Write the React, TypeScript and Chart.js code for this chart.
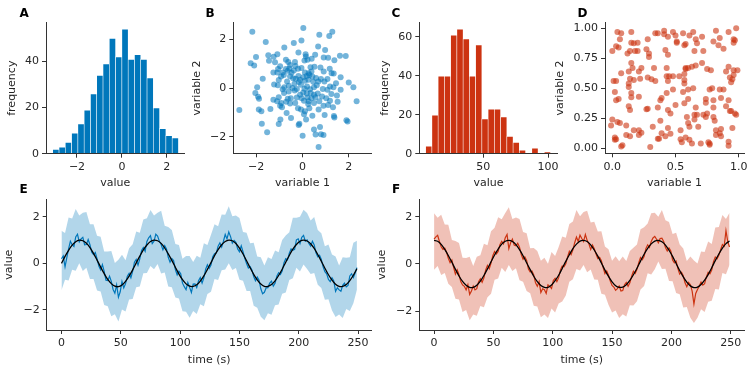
import React, { useEffect, useRef } from "react";
import { Chart, registerables } from "chart.js";

Chart.register(...registerables);

const FONT = "'DejaVu Sans', sans-serif";
const TXT = "#262626";
const AXC = "#333333";
const BLUE = "#0077BB";
const RED = "#CC3311";

// ---------------- Panel A: histogram of normal values ----------------
const histABinCenters = [-2.94, -2.66, -2.38, -2.1, -1.82, -1.54, -1.26, -0.98, -0.7, -0.42, -0.14, 0.14, 0.42, 0.7, 0.98, 1.26, 1.54, 1.82, 2.1, 2.38];
const histACounts = [2, 3, 5, 9, 13, 19, 26, 34, 39, 50, 42, 54, 41, 43, 41, 33, 20, 11, 8, 7];
const histAXTicks = [-2, 0, 2];
const histAXLabels = ["−2", "0", "2"];
const histAYTicks = [0, 20, 40];
const histAYLabels = ["0", "20", "40"];

// ---------------- Panel B: scatter (normal) ----------------
const scatterBX = [-2.16, 0.04, 0.73, 1.16, 1.29, -1.58, -0.37, -0.04, 0.68, 0.98, -0.78, -0.17, -2.0, -1.47, -1.08, -1.24, -1.44, -0.71, -0.61, 0.14, 0.55, 0.92, 1.11, 1.38, 1.62, 1.87, -2.23, -2.08, -0.32, 0.09, 0.22, 0.4, -1.18, -0.96, -0.53, -0.3, -0.19, -0.04, 0.52, 0.78, 1.18, 1.35, -1.05, -0.71, -0.56, -0.37, -1.25, -1.08, -0.85, -0.63, -0.47, 0.11, 0.27, 0.39, 0.92, 1.26, 1.65, -0.92, -0.8, -0.53, -0.17, 0.04, 0.19, 0.3, 0.43, 0.59, 0.8, 1.08, -1.71, -1.02, -0.66, -0.29, -0.1, 0.11, 0.26, 0.47, 0.69, 0.95, 2.0, -1.06, -1.22, -0.59, -0.34, -0.06, 0.2, 0.5, 1.19, 1.34, 2.2, -1.95, -0.78, -0.43, -0.24, 0.09, 0.33, 0.88, 1.08, 1.65, -2.03, -0.79, -0.59, -0.33, -0.1, 0.04, 0.19, 0.36, 0.5, 0.66, 1.25, 1.49, -1.91, -1.87, -1.02, -0.63, -0.5, -0.24, -0.03, 0.22, 0.39, 0.56, 0.85, 1.03, 1.19, 1.52, 2.34, -1.25, -1.09, -0.91, -0.7, -0.53, -0.31, 0.07, 0.27, 0.5, 0.73, 0.91, 1.11, 1.32, -0.96, -0.88, -1.38, -2.72, -1.88, -1.77, -0.19, -0.06, 0.11, 0.3, 0.7, -0.68, -0.49, 0.07, 0.43, 0.96, 1.36, 1.38, -0.95, -1.02, -1.75, 0.16, -0.16, -0.13, 1.95, 1.9, -1.52, 0.5, 0.76, 0.57, 0.8, 0.91, 0.01, 0.7, 0.35, -0.15, 0.62, -0.85, 0.25, -0.4, 1.45, 0.15];
const scatterBY = [2.31, 2.46, 2.19, 2.14, 2.31, 1.89, 1.85, 1.95, 1.71, 1.56, 1.66, 1.46, 1.27, 1.35, 1.39, 1.29, 1.12, 1.16, 1.07, 1.39, 1.37, 1.25, 1.24, 1.14, 1.33, 1.32, 1.02, 0.93, 1.07, 1.13, 1.16, 1.2, 1.06, 0.9, 0.95, 0.91, 0.79, 0.82, 0.88, 0.84, 0.79, 0.6, 0.78, 0.78, 0.8, 0.72, 0.64, 0.64, 0.64, 0.71, 0.63, 0.64, 0.61, 0.68, 0.68, 0.61, 0.45, 0.48, 0.54, 0.49, 0.5, 0.45, 0.5, 0.54, 0.48, 0.41, 0.37, 0.37, 0.38, 0.33, 0.27, 0.38, 0.34, 0.3, 0.34, 0.26, 0.27, 0.27, 0.23, 0.12, 0.15, 0.1, 0.18, 0.14, 0.07, 0.04, 0.07, 0.04, 0.04, 0.04, 0.04, 0.0, -0.04, -0.03, -0.05, -0.04, -0.07, -0.07, -0.2, -0.2, -0.14, -0.1, -0.27, -0.18, -0.22, -0.2, -0.27, -0.22, -0.24, -0.3, -0.35, -0.44, -0.37, -0.44, -0.42, -0.38, -0.41, -0.38, -0.41, -0.37, -0.34, -0.42, -0.52, -0.56, -0.54, -0.48, -0.54, -0.61, -0.56, -0.63, -0.61, -0.52, -0.54, -0.61, -0.54, -0.72, -0.69, -0.78, -0.72, -0.78, -0.86, -0.9, -0.88, -0.95, -0.82, -0.88, -0.95, -0.82, -0.88, -1.02, -1.22, -1.07, -1.13, -1.1, -1.14, -1.2, -1.29, -1.47, -1.46, -1.29, -1.51, -1.46, -1.37, -1.32, -1.81, -1.69, -1.59, -1.9, -1.89, -1.92, -1.95, -2.41, 0.85, 0.25, 0.12, -0.05, -0.65, 0.4, 0.2, 1.3];
const scatterBTicks = [-2, 0, 2];
const scatterBLabels = ["−2", "0", "2"];

// ---------------- Panel C: histogram (skewed) ----------------
const histCBinCenters = [7.91, 12.73, 17.55, 22.37, 27.19, 32.01, 36.83, 41.65, 46.47, 51.29, 56.11, 60.93, 65.75, 70.57, 75.39, 80.21, 85.03, 89.85, 94.67, 99.49];
const histCCounts = [4, 20, 40, 40, 61, 64, 59, 40, 56, 18, 23, 23, 19, 9, 6, 2, 0, 3, 0, 1];
const histCXTicks = [50, 100];
const histCXLabels = ["50", "100"];
const histCYTicks = [0, 20, 40, 60];
const histCYLabels = ["0", "20", "40", "60"];

// ---------------- Panel D: scatter (uniform) ----------------
const scatterDX = [0.0, 0.04, 0.07, 0.03, 0.05, 0.06, 0.01, 0.03, 0.02, 0.03, 0.05, -0.01, 0.0, 0.04, 0.06, 0.02, 0.03, 0.02, 0.07, 0.11, 0.12, 0.15, 0.14, 0.15, 0.17, 0.2, 0.18, 0.2, 0.15, 0.16, 0.13, 0.14, 0.17, 0.13, 0.13, 0.21, 0.22, 0.23, 0.15, 0.15, 0.21, 0.13, 0.14, 0.11, 0.14, 0.17, 0.21, 0.21, 0.23, 0.08, 0.07, 0.27, 0.29, 0.29, 0.28, 0.34, 0.36, 0.41, 0.33, 0.28, 0.31, 0.34, 0.28, 0.27, 0.32, 0.3, 0.36, 0.38, 0.39, 0.38, 0.39, 0.42, 0.36, 0.37, 0.41, 0.44, 0.42, 0.44, 0.43, 0.43, 0.45, 0.44, 0.43, 0.44, 0.46, 0.44, 0.46, 0.48, 0.5, 0.51, 0.51, 0.48, 0.48, 0.5, 0.54, 0.54, 0.55, 0.56, 0.57, 0.58, 0.61, 0.64, 0.66, 0.65, 0.67, 0.71, 0.72, 0.53, 0.57, 0.58, 0.58, 0.6, 0.63, 0.66, 0.71, 0.57, 0.57, 0.56, 0.6, 0.64, 0.57, 0.6, 0.59, 0.6, 0.61, 0.58, 0.61, 0.63, 0.65, 0.67, 0.65, 0.66, 0.68, 0.7, 0.75, 0.77, 0.78, 0.74, 0.74, 0.72, 0.74, 0.75, 0.76, 0.77, 0.77, 0.8, 0.8, 0.81, 0.8, 0.82, 0.8, 0.84, 0.85, 0.88, 0.79, 0.85, 0.88, 0.86, 0.82, 0.82, 0.85, 0.86, 0.86, 0.92, 0.9, 0.93, 0.94, 0.95, 0.92, 0.92, 0.97, 0.98, 0.9, 0.92, 0.93, 0.95, 0.96, 0.96, 0.99, 0.94, 0.92, 0.96, 0.97, 0.98, 0.96];
const scatterDY = [0.81, 0.97, 0.96, 0.85, 0.84, 0.91, 0.56, 0.56, 0.47, 0.4, 0.41, 0.19, 0.24, 0.22, 0.21, 0.09, 0.075, 0.07, 0.625, 0.19, 0.79, 0.97, 0.81, 0.88, 0.875, 0.88, 0.81, 0.81, 0.71, 0.67, 0.64, 0.58, 0.57, 0.54, 0.51, 0.64, 0.58, 0.67, 0.46, 0.425, 0.43, 0.35, 0.32, 0.11, 0.1, 0.15, 0.15, 0.11, 0.13, 0.025, 0.015, 0.825, 0.79, 0.76, 0.91, 0.96, 0.96, 0.98, 0.67, 0.59, 0.575, 0.56, 0.33, 0.325, 0.18, 0.01, 0.34, 0.4, 0.42, 0.23, 0.125, 0.1, 0.08, 0.08, 0.95, 0.93, 0.82, 0.78, 0.67, 0.6, 0.6, 0.56, 0.46, 0.32, 0.29, 0.17, 0.12, 0.97, 0.94, 0.89, 0.88, 0.49, 0.6, 0.36, 0.15, 0.075, 0.05, 0.96, 0.86, 0.87, 0.94, 0.97, 0.91, 0.81, 0.875, 0.93, 0.81, 0.6, 0.62, 0.66, 0.67, 0.67, 0.68, 0.69, 0.71, 0.57, 0.54, 0.47, 0.49, 0.5, 0.375, 0.41, 0.26, 0.21, 0.18, 0.09, 0.07, 0.04, 0.28, 0.28, 0.24, 0.34, 0.18, 0.04, 0.66, 0.49, 0.65, 0.38, 0.41, 0.28, 0.26, 0.29, 0.05, 0.04, 0.03, 0.34, 0.26, 0.23, 0.4, 0.98, 0.89, 0.86, 0.92, 0.83, 0.5, 0.49, 0.49, 0.42, 0.15, 0.11, 0.125, 0.16, 0.1, 0.4, 0.35, 0.31, 0.31, 0.17, 0.055, 0.02, 0.29, 0.28, 0.64, 0.68, 0.59, 0.575, 0.61, 0.65, 0.65, 0.55, 0.97, 0.91, 0.9, 1.0, 0.88];
const scatterDXTicks = [0, 0.5, 1];
const scatterDXLabels = ["0.0", "0.5", "1.0"];
const scatterDYTicks = [0, 0.25, 0.5, 0.75, 1];
const scatterDYLabels = ["0.00", "0.25", "0.50", "0.75", "1.00"];

// ---------------- Panels E & F: time series ----------------
// coarse time grid (band + smooth curve)
const timeS = [0, 3, 6, 9, 12, 15, 18, 21, 24, 27, 30, 33, 36, 39, 42, 45, 48, 51, 54, 57, 60, 63, 66, 69, 72, 75, 78, 81, 84, 87, 90, 93, 96, 99, 102, 105, 108, 111, 114, 117, 120, 123, 126, 129, 132, 135, 138, 141, 144, 147, 150, 153, 156, 159, 162, 165, 168, 171, 174, 177, 180, 183, 186, 189, 192, 195, 198, 201, 204, 207, 210, 213, 216, 219, 222, 225, 228, 231, 234, 237, 240, 243, 246, 249];
// fine time grid (noisy measured line)
const timeFine = [0, 1.5, 3, 4.5, 6, 7.5, 9, 10.5, 12, 13.5, 15, 16.5, 18, 19.5, 21, 22.5, 24, 25.5, 27, 28.5, 30, 31.5, 33, 34.5, 36, 37.5, 39, 40.5, 42, 43.5, 45, 46.5, 48, 49.5, 51, 52.5, 54, 55.5, 57, 58.5, 60, 61.5, 63, 64.5, 66, 67.5, 69, 70.5, 72, 73.5, 75, 76.5, 78, 79.5, 81, 82.5, 84, 85.5, 87, 88.5, 90, 91.5, 93, 94.5, 96, 97.5, 99, 100.5, 102, 103.5, 105, 106.5, 108, 109.5, 111, 112.5, 114, 115.5, 117, 118.5, 120, 121.5, 123, 124.5, 126, 127.5, 129, 130.5, 132, 133.5, 135, 136.5, 138, 139.5, 141, 142.5, 144, 145.5, 147, 148.5, 150, 151.5, 153, 154.5, 156, 157.5, 159, 160.5, 162, 163.5, 165, 166.5, 168, 169.5, 171, 172.5, 174, 175.5, 177, 178.5, 180, 181.5, 183, 184.5, 186, 187.5, 189, 190.5, 192, 193.5, 195, 196.5, 198, 199.5, 201, 202.5, 204, 205.5, 207, 208.5, 210, 211.5, 213, 214.5, 216, 217.5, 219, 220.5, 222, 223.5, 225, 226.5, 228, 229.5, 231, 232.5, 234, 235.5, 237, 238.5, 240, 241.5, 243, 244.5, 246, 247.5, 249];

const eSmooth = [0.0, 0.3, 0.56, 0.78, 0.93, 1.0, 0.97, 0.86, 0.68, 0.43, 0.14, -0.16, -0.44, -0.69, -0.87, -0.98, -1.0, -0.93, -0.77, -0.55, -0.28, 0.02, 0.31, 0.58, 0.79, 0.94, 1.0, 0.97, 0.86, 0.66, 0.41, 0.13, -0.17, -0.46, -0.7, -0.88, -0.98, -0.99, -0.92, -0.76, -0.54, -0.26, 0.03, 0.33, 0.59, 0.8, 0.94, 1.0, 0.97, 0.85, 0.65, 0.4, 0.11, -0.19, -0.47, -0.71, -0.89, -0.99, -0.99, -0.91, -0.75, -0.52, -0.25, 0.05, 0.34, 0.61, 0.81, 0.95, 1.0, 0.96, 0.84, 0.64, 0.38, 0.09, -0.21, -0.49, -0.72, -0.9, -0.99, -0.99, -0.91, -0.74, -0.51, -0.23];
const eNoisy = [
  0.2, 0.32, -0.15, 0.25, 0.62, 0.95, 0.8, 0.72, 1.13, 1.25, 0.92, 1.05, 1.12, 0.8, 0.81, 1.02, 0.8, 0.48, 0.38, 0.47,
  0.19, -0.12, -0.28, -0.05, -0.34, -0.72, -0.74, -0.55, -0.77, -1.12, -1.28, -0.92, -1.45, -1.22, -0.78, -1.05, -0.87, -0.55, -0.43, -0.62,
  -0.33, 0.05, 0.17, -0.08, 0.19, 0.55, 0.68, 0.52, 0.94, 1.1, 1.19, 0.85, 0.95, 1.25, 1.17, 0.95, 0.81, 0.58, 0.76, 0.62,
  0.26, 0.05, 0.21, 0.12, -0.27, -0.5, -0.34, -0.45, -0.85, -1.0, -1.13, -0.82, -1.03, -1.25, -0.89, -0.88, -1.04, -0.75, -0.61, -0.85,
  -0.62, -0.25, -0.06, -0.22, -0.07, 0.28, 0.41, 0.45, 0.74, 0.88, 0.7, 0.95, 1.24, 1.05, 1.35, 1.15, 0.87, 0.98, 0.9, 0.62,
  0.5, 0.75, 0.5, 0.22, -0.01, -0.2, -0.14, -0.28, -0.57, -0.75, -0.59, -0.72, -1.09, -1.3, -1.24, -1.05, -1.04, -0.85, -0.76, -0.98,
  -0.85, -0.55, -0.4, -0.48, -0.33, 0.02, 0.2, 0.15, 0.44, 0.62, 0.56, 0.6, 1.01, 1.05, 0.85, 1.12, 1.2, 0.95, 1.01, 0.85,
  0.74, 0.95, 0.79, 0.45, 0.28, 0.35, 0.17, -0.15, -0.36, -0.45, -0.69, -0.78, -0.62, -0.75, -1.2, -1.05, -1.14, -1.2, -0.94, -0.85,
  -1.01, -0.95, -0.54, -0.45, -0.61, -0.42, -0.18,
];
const eUpper = [1.4, 1.3, 1.97, 1.93, 2.33, 2.05, 2.17, 2.21, 1.68, 1.68, 1.19, 1.14, 0.51, 0.51, 0.53, 0.02, 0.15, 0.37, 0.13, 0.65, 0.82, 1.37, 1.31, 1.88, 1.94, 2.29, 2.05, 2.17, 2.26, 1.61, 1.56, 1.43, 0.83, 0.79, 0.2, 0.32, 0.32, 0.06, 0.33, 0.24, 0.86, 0.79, 1.23, 1.68, 1.59, 2.1, 2.09, 2.45, 2.02, 2.05, 1.95, 1.35, 1.31, 0.86, 0.88, 0.29, 0.26, -0.09, 0.26, 0.19, 0.55, 0.48, 1.0, 1.2, 1.34, 1.96, 1.96, 2.0, 2.3, 2.16, 1.84, 1.99, 1.43, 1.29, 0.74, 0.81, 0.38, 0.3, -0.09, 0.26, 0.24, 0.26, 0.89, 0.97];
const eLower = [-1.15, -0.7, -0.73, -0.27, -0.32, 0.0, -0.33, -0.19, -0.67, -0.67, -1.16, -1.21, -1.79, -1.84, -2.27, -2.18, -2.5, -1.98, -2.07, -1.55, -1.53, -1.03, -0.99, -0.42, -0.41, -0.11, -0.25, -0.03, -0.44, -0.39, -0.99, -1.02, -1.47, -1.51, -2.05, -2.08, -2.33, -2.04, -2.17, -1.76, -1.84, -1.31, -1.22, -0.67, -0.71, -0.3, -0.26, 0.0, -0.28, -0.2, -0.7, -0.75, -1.19, -1.19, -1.82, -1.91, -2.29, -2.44, -2.14, -2.21, -1.8, -1.77, -1.3, -1.25, -0.71, -0.64, -0.19, -0.35, -0.05, -0.24, -0.46, -0.41, -0.92, -1.06, -1.56, -1.54, -2.02, -2.3, -2.19, -2.34, -1.96, -2.04, -1.71, -1.13];

const fSmooth = [1.0, 0.96, 0.83, 0.62, 0.36, 0.07, -0.23, -0.51, -0.74, -0.9, -0.99, -0.99, -0.9, -0.73, -0.49, -0.21, 0.09, 0.38, 0.63, 0.84, 0.96, 1.0, 0.95, 0.82, 0.61, 0.35, 0.05, -0.24, -0.52, -0.75, -0.91, -0.99, -0.99, -0.89, -0.71, -0.48, -0.19, 0.11, 0.39, 0.65, 0.84, 0.97, 1.0, 0.95, 0.81, 0.59, 0.33, 0.04, -0.26, -0.53, -0.76, -0.92, -0.99, -0.98, -0.88, -0.7, -0.46, -0.18, 0.12, 0.41, 0.66, 0.85, 0.97, 1.0, 0.94, 0.8, 0.58, 0.32, 0.02, -0.28, -0.55, -0.77, -0.93, -1.0, -0.98, -0.87, -0.69, -0.45, -0.16, 0.14, 0.42, 0.67, 0.86, 0.97];
const fNoisy = [
  1.05, 1.15, 1.21, 0.95, 0.73, 0.62, 0.67, 0.5, 0.24, 0.05, 0.17, -0.15, -0.43, -0.25, -0.46, -0.75, -0.89, -0.95, -1.1, -0.88,
  -1.29, -1.15, -0.94, -1.1, -1.05, -0.75, -0.63, -0.78, -0.59, -0.25, -0.06, -0.2, 0.04, 0.35, 0.53, 0.42, 0.53, 0.82, 0.96, 0.85,
  1.11, 1.25, 0.65, 0.9, 1.05, 0.8, 0.77, 0.88, 0.71, 0.4, 0.2, 0.3, 0.15, -0.22, -0.34, -0.3, -0.47, -0.8, -0.95, -0.75,
  -1.21, -1.05, -1.09, -1.25, -0.89, -0.95, -1.04, -0.7, -0.61, -0.75, -0.58, -0.25, -0.09, -0.12, 0.01, 0.3, 0.54, 0.4, 0.6, 0.9,
  1.14, 0.95, 1.22, 1.08, 0.95, 1.25, 1.0, 0.85, 0.61, 0.8, 0.64, 0.42, 0.23, 0.28, 0.14, -0.15, -0.41, -0.3, -0.48, -0.72,
  -0.91, -0.98, -1.12, -1.05, -0.94, -1.15, -1.13, -0.88, -0.78, -0.95, -0.8, -0.52, -0.31, -0.4, -0.23, 0.05, 0.27, 0.18, 0.31, 0.65,
  0.81, 0.7, 0.95, 1.1, 1.17, 1.05, 0.9, 1.08, 1.09, 0.95, 0.7, 0.55, 0.68, 0.55, 0.17, 0.05, 0.12, -0.2, -0.43, -0.35,
  -0.5, -0.8, -0.97, -0.78, -0.88, -1.15, -1.7, -1.25, -1.08, -0.95, -0.77, -0.9, -0.84, -0.55, -0.35, -0.42, -0.26, 0.1, 0.29, 0.22,
  0.37, 0.6, 0.82, 0.75, 1.41, 0.95, 0.72,
];
const fUpper = [2.15, 1.96, 2.08, 1.67, 1.66, 1.02, 0.97, 0.89, 0.26, 0.25, 0.31, -0.09, 0.3, 0.37, 0.86, 0.79, 1.39, 1.53, 1.98, 1.89, 2.16, 2.4, 1.9, 1.97, 1.91, 1.35, 1.3, 0.66, 0.68, 0.55, 0.14, 0.26, 0.01, 0.51, 0.34, 0.72, 1.16, 1.11, 1.69, 1.8, 2.29, 2.02, 2.2, 2.25, 1.76, 1.79, 1.38, 1.39, 0.74, 0.62, 0.14, 0.33, 0.11, 0.32, 0.12, 0.55, 0.69, 0.82, 1.47, 1.56, 1.71, 2.15, 2.17, 2.0, 2.29, 1.85, 1.78, 1.27, 1.32, 0.82, 0.65, 0.13, 0.32, 0.15, 0.02, 0.53, 0.51, 0.95, 0.84, 1.54, 1.57, 2.07, 1.91, 2.17];
const fLower = [-0.25, -0.09, -0.47, -0.38, -0.84, -0.98, -1.48, -1.51, -2.04, -1.95, -2.39, -2.14, -2.2, -1.78, -1.84, -1.41, -1.26, -0.67, -0.62, -0.16, -0.34, -0.05, -0.3, -0.18, -0.69, -0.75, -1.15, -1.24, -1.77, -1.8, -2.26, -2.14, -2.29, -1.89, -2.06, -1.68, -1.59, -1.34, -0.76, -0.65, -0.21, -0.28, -0.05, -0.35, -0.24, -0.66, -0.67, -1.26, -1.31, -1.73, -2.06, -1.97, -2.29, -2.13, -2.23, -1.75, -1.76, -1.58, -1.08, -0.94, -0.39, -0.45, -0.23, 0.1, -0.21, -0.2, -0.72, -0.73, -1.23, -1.28, -1.85, -1.82, -2.28, -2.5, -2.28, -1.92, -2.04, -1.6, -1.56, -1.06, -1.08, -0.38, -0.44, -0.03];

const timeTicks = [0, 50, 100, 150, 200, 250];
const timeLabels = ["0", "50", "100", "150", "200", "250"];
const valueTicks = [-2, 0, 2];
const valueLabels = ["−2", "0", "2"];

// ---------------- layout helpers ----------------
type Geo = { l: number; r: number; t: number; b: number; yTitleX: number; xTitleY: number };
type Box = { cl: number; ct: number; cw: number; ch: number; W: number; H: number; T: number; R: number; pt: number; pb: number };

const LH = 11 * 1.2;

function computeBox(g: Geo): Box {
  const cl = Math.max(0, Math.round(g.yTitleX - LH / 2 - 2));
  const pt = g.yTitleX - cl - LH / 2;
  const W = g.l - cl;
  const ct = Math.floor(g.t - 10);
  const T = g.t - ct;
  const cb = Math.min(370, Math.ceil(g.xTitleY + LH / 2 + 2));
  const ch = cb - ct;
  const H = cb - g.b;
  const pb = cb - g.xTitleY - LH / 2;
  const cr = Math.min(751, Math.ceil(g.r + 12));
  const cw = cr - cl;
  const R = cr - g.r;
  return { cl, ct, cw, ch, W, H, T, R, pt, pb };
}

function axis(o: {
  min: number; max: number; ticks: number[]; labels: string[]; title: string;
  isY: boolean; size: number; titlePad: number;
}) {
  return {
    type: "linear",
    position: o.isY ? "left" : "bottom",
    min: o.min,
    max: o.max,
    bounds: "data",
    offset: false,
    grid: {
      display: true,
      drawOnChartArea: false,
      drawTicks: true,
      tickLength: 4,
      tickWidth: 1,
      tickColor: AXC,
      offset: false,
    },
    border: { display: true, color: AXC, width: 1, z: 1 },
    ticks: {
      color: TXT,
      font: { family: FONT, size: 11 },
      padding: 3,
      autoSkip: false,
      maxRotation: 0,
      minRotation: 0,
      callback: (v: number) => {
        const i = o.ticks.indexOf(v);
        return i >= 0 ? o.labels[i] : "";
      },
    },
    afterBuildTicks: (s: any) => {
      s.ticks = o.ticks.map((v) => ({ value: v }));
    },
    afterFit: (s: any) => {
      if (o.isY) s.width = o.size;
      else s.height = o.size;
    },
    title: {
      display: true,
      text: o.title,
      color: TXT,
      font: { family: FONT, size: 11 },
      padding: o.isY ? { top: o.titlePad, bottom: 0 } : { top: 0, bottom: o.titlePad },
    },
  };
}

function baseOptions(box: Box, scales: any) {
  return {
    animation: false,
    responsive: false,
    maintainAspectRatio: false,
    devicePixelRatio: 1,
    events: [],
    layout: { padding: { left: 0, top: box.T, right: box.R, bottom: 0 } },
    plugins: { legend: { display: false }, tooltip: { enabled: false }, title: { display: false } },
    scales,
  };
}

function histConfig(box: Box, centers: number[], counts: number[], color: string, xr: [number, number], yr: [number, number], xt: number[], xl: string[], yt: number[], yl: string[]) {
  return {
    type: "bar",
    data: {
      datasets: [
        {
          data: centers.map((x, i) => ({ x, y: counts[i] })),
          backgroundColor: color,
          borderColor: "rgba(255,255,255,0.9)",
          borderWidth: { top: 1, left: 0.6, right: 0.6, bottom: 0 },
          borderSkipped: "start",
          barPercentage: 1,
          categoryPercentage: 1,
        },
      ],
    },
    options: baseOptions(box, {
      x: axis({ min: xr[0], max: xr[1], ticks: xt, labels: xl, title: "value", isY: false, size: box.H, titlePad: box.pb }),
      y: axis({ min: yr[0], max: yr[1], ticks: yt, labels: yl, title: "frequency", isY: true, size: box.W, titlePad: box.pt }),
    }),
  };
}

function scatterConfig(box: Box, xs: number[], ys: number[], color: string, xr: [number, number], yr: [number, number], xt: number[], xl: string[], yt: number[], yl: string[]) {
  return {
    type: "scatter",
    data: {
      datasets: [
        {
          data: xs.map((x, i) => ({ x, y: ys[i] })),
          backgroundColor: color,
          borderWidth: 0,
          borderColor: "rgba(0,0,0,0)",
          pointRadius: 3,
        },
      ],
    },
    options: baseOptions(box, {
      x: axis({ min: xr[0], max: xr[1], ticks: xt, labels: xl, title: "variable 1", isY: false, size: box.H, titlePad: box.pb }),
      y: axis({ min: yr[0], max: yr[1], ticks: yt, labels: yl, title: "variable 2", isY: true, size: box.W, titlePad: box.pt }),
    }),
  };
}

function seriesConfig(box: Box, smooth: number[], noisy: number[], upper: number[], lower: number[], color: string, band: string, yr: [number, number]) {
  const pts = (ts: number[], arr: number[]) => ts.map((x, i) => ({ x, y: arr[i] }));
  return {
    type: "line",
    data: {
      datasets: [
        { data: pts(timeS, smooth), borderColor: "#000000", borderWidth: 1.3, pointRadius: 0, fill: false, tension: 0.3 },
        { data: pts(timeFine, noisy), borderColor: color, borderWidth: 1.2, pointRadius: 0, fill: false, tension: 0 },
        { data: pts(timeS, upper), borderColor: "rgba(0,0,0,0)", borderWidth: 0, pointRadius: 0, fill: "+1", backgroundColor: band, tension: 0 },
        { data: pts(timeS, lower), borderColor: "rgba(0,0,0,0)", borderWidth: 0, pointRadius: 0, fill: false, tension: 0 },
      ],
    },
    options: baseOptions(box, {
      x: axis({ min: -12.45, max: 261.45, ticks: timeTicks, labels: timeLabels, title: "time (s)", isY: false, size: box.H, titlePad: box.pb }),
      y: axis({ min: yr[0], max: yr[1], ticks: valueTicks, labels: valueLabels, title: "value", isY: true, size: box.W, titlePad: box.pt }),
    }),
  };
}

function Panel({ geo, build }: { geo: Geo; build: (b: Box) => any }) {
  const ref = useRef<HTMLCanvasElement>(null);
  const box = computeBox(geo);
  useEffect(() => {
    const c = ref.current;
    if (!c) return;
    const chart = new Chart(c, build(box));
    return () => chart.destroy();
  }, []);
  return (
    <canvas
      ref={ref}
      width={box.cw}
      height={box.ch}
      style={{ position: "absolute", left: box.cl, top: box.ct, width: box.cw, height: box.ch }}
    />
  );
}

const GEO: Record<string, Geo> = {
  A: { l: 46, r: 184.3, t: 22.7, b: 153.7, yTitleX: 12.3, xTitleY: 182.7 },
  B: { l: 233.3, r: 371.7, t: 22.7, b: 153.3, yTitleX: 197.3, xTitleY: 182.7 },
  C: { l: 419.3, r: 557.7, t: 22.7, b: 153.7, yTitleX: 385, xTitleY: 182.7 },
  D: { l: 605, r: 744, t: 22.7, b: 153.3, yTitleX: 560, xTitleY: 182.7 },
  E: { l: 46.7, r: 371.7, t: 199.3, b: 330, yTitleX: 9, xTitleY: 360 },
  F: { l: 419.3, r: 744.3, t: 199.3, b: 330, yTitleX: 381.7, xTitleY: 360 },
};

const LETTERS: { t: string; x: number; y: number }[] = [
  { t: "A", x: 19.5, y: 7 },
  { t: "B", x: 205.5, y: 7 },
  { t: "C", x: 391.5, y: 7 },
  { t: "D", x: 577.5, y: 7 },
  { t: "E", x: 19.5, y: 182.6 },
  { t: "F", x: 392, y: 182.6 },
];

export default function App() {
  return (
    <div style={{ position: "absolute", left: 0, top: 0, width: 751, height: 370, overflow: "hidden", background: "#ffffff" }}>
      <Panel geo={GEO.A} build={(b) => histConfig(b, histABinCenters, histACounts, BLUE, [-3.38, 2.78], [0, 56.7], histAXTicks, histAXLabels, histAYTicks, histAYLabels)} />
      <Panel geo={GEO.B} build={(b) => scatterConfig(b, scatterBX, scatterBY, "rgba(0,119,187,0.55)", [-2.98, 2.99], [-2.67, 2.68], scatterBTicks, scatterBLabels, scatterBTicks, scatterBLabels)} />
      <Panel geo={GEO.C} build={(b) => histConfig(b, histCBinCenters, histCCounts, RED, [0.6, 107.4], [0, 67.2], histCXTicks, histCXLabels, histCYTicks, histCYLabels)} />
      <Panel geo={GEO.D} build={(b) => scatterConfig(b, scatterDX, scatterDY, "rgba(204,51,17,0.6)", [-0.058, 1.042], [-0.042, 1.047], scatterDXTicks, scatterDXLabels, scatterDYTicks, scatterDYLabels)} />
      <Panel geo={GEO.E} build={(b) => seriesConfig(b, eSmooth, eNoisy, eUpper, eLower, BLUE, "rgba(0,119,187,0.3)", [-2.86, 2.75])} />
      <Panel geo={GEO.F} build={(b) => seriesConfig(b, fSmooth, fNoisy, fUpper, fLower, RED, "rgba(204,51,17,0.3)", [-2.8, 2.74])} />
      {LETTERS.map((l) => (
        <div
          key={l.t}
          style={{
            position: "absolute",
            left: l.x,
            top: l.y,
            fontFamily: FONT,
            fontWeight: "bold",
            fontSize: 12,
            lineHeight: "12px",
            color: "#000000",
            pointerEvents: "none",
          }}
        >
          {l.t}
        </div>
      ))}
    </div>
  );
}
